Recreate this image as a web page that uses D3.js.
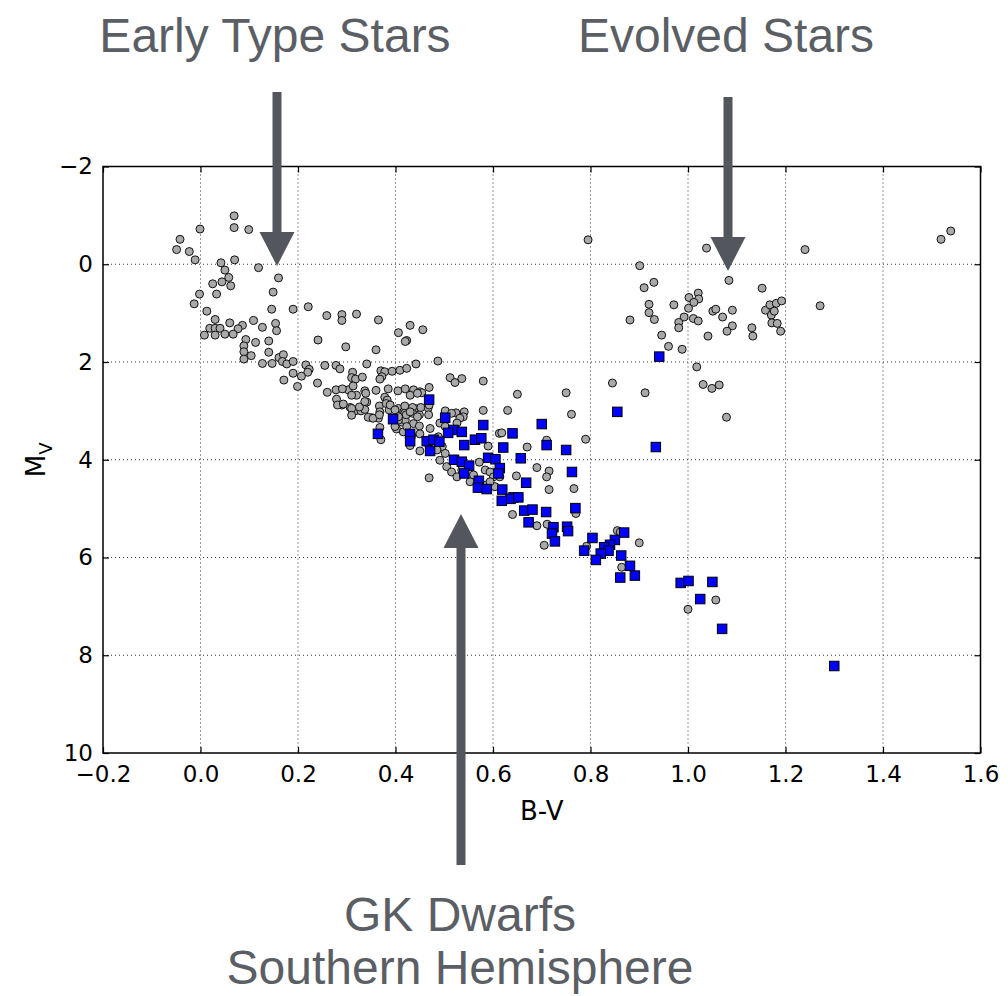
<!DOCTYPE html>
<html><head><meta charset="utf-8">
<script src="https://cdn.jsdelivr.net/npm/d3@7"></script>
<style>body{margin:0;background:#fff}svg{display:block}</style>
</head><body>
<svg id="c" width="1008" height="996"></svg>
<script>
// Gray circles: [B-V, M_V]
const allStars = [
[0.069,-0.99],[0.069,-0.75],[0.099,-0.71],[-0.001,-0.72],[-0.042,-0.51],[-0.049,-0.30],[-0.023,-0.26],[-0.011,-0.09],
[0.070,-0.09],[0.042,-0.03],[0.119,0.07],[0.050,0.12],[0.058,0.27],[0.160,0.28],[0.025,0.40],[0.044,0.36],[0.062,0.44],
[0.149,0.57],[-0.002,0.61],[0.033,0.61],[-0.013,0.81],[0.146,0.92],[0.190,0.92],[0.221,0.87],[0.013,0.96],[0.030,1.13],
[0.060,1.20],[0.109,1.15],[0.154,1.21],[0.127,1.29],[0.086,1.25],[0.077,1.32],[0.156,1.36],[0.019,1.31],[0.030,1.31],
[0.040,1.31],[0.008,1.45],[0.030,1.45],[0.050,1.43],[0.067,1.43],[0.093,1.54],[0.113,1.60],[0.140,1.57],[0.241,1.55],
[0.089,1.67],[0.089,1.79],[0.089,1.94],[0.104,1.87],[0.140,1.80],[0.127,2.03],[0.147,2.03],[0.161,1.91],[0.170,1.85],
[0.168,1.99],[0.177,2.04],[0.190,1.99],[0.216,2.06],[0.223,2.15],[0.220,2.21],[0.190,2.23],[0.207,2.29],[0.171,2.37],
[0.199,2.50],[0.259,1.05],[0.290,1.03],[0.290,1.15],[0.320,1.02],[0.365,1.14],[0.430,1.25],[0.456,1.34],[0.406,1.40],
[0.423,1.56],[0.420,1.58],[0.298,1.69],[0.360,1.75],[0.255,2.07],[0.278,2.07],[0.286,2.14],[0.312,2.21],[0.310,2.32],
[0.318,2.35],[0.332,2.31],[0.341,2.04],[0.370,2.18],[0.378,2.20],[0.393,2.19],[0.409,2.17],[0.423,2.13],[0.442,2.04],
[0.487,1.98],[0.372,2.30],[0.368,2.35],[0.240,2.43],[0.278,2.57],[0.260,2.62],[0.303,2.57],[0.313,2.49],[0.291,2.55],
[0.320,2.68],[0.337,2.59],[0.360,2.58],[0.385,2.55],[0.405,2.59],[0.420,2.55],[0.437,2.57],[0.450,2.61],[0.469,2.52],
[0.279,2.76],[0.290,2.88],[0.281,2.88],[0.307,2.93],[0.317,3.00],[0.329,3.00],[0.337,2.97],[0.341,2.82],[0.351,3.14],
[0.367,2.90],[0.368,3.02],[0.378,2.72],[0.383,2.78],[0.381,2.85],[0.387,2.98],[0.406,2.95],[0.417,3.02],[0.428,2.97],
[0.440,2.95],[0.449,3.08],[0.454,2.63],[0.452,2.93],[0.467,2.94],[0.468,3.08],[0.365,3.15],[0.368,3.34],[0.370,3.59],
[0.413,3.23],[0.420,3.19],[0.437,3.26],[0.449,3.31],[0.402,3.37],[0.430,3.71],[0.450,3.47],[0.471,3.36],[0.512,2.32],
[0.522,2.42],[0.536,2.34],[0.580,2.39],[0.650,2.66],[0.502,3.00],[0.524,3.04],[0.541,3.02],[0.539,3.12],[0.580,2.99],
[0.630,2.99],[0.491,3.25],[0.488,3.53],[0.496,3.73],[0.450,3.82],[0.469,4.37],[0.845,2.43],[0.750,2.63],[0.912,2.63],
[0.761,3.07],[0.613,3.46],[0.618,3.45],[0.710,3.60],[0.670,3.74],[0.790,3.58],[0.590,3.72],[0.690,4.16],[0.715,4.23],
[0.710,4.35],[0.648,4.33],[0.572,4.05],[0.715,4.61],[0.766,4.59],[0.640,5.12],[0.690,5.35],[0.711,5.32],[0.705,5.75],
[0.900,5.70],[0.770,5.10],[1.031,2.46],[1.049,2.54],[1.064,2.47],[1.079,3.13],[0.855,5.45],[0.861,5.48],[0.792,5.77],
[0.864,6.20],[1.057,6.87],[1.000,7.06],[0.795,-0.50],[1.038,-0.33],[1.240,-0.30],[0.901,0.03],[0.930,0.37],[0.910,0.48],
[1.084,0.33],[1.152,0.49],[1.021,0.59],[1.002,0.68],[1.022,0.71],[1.012,0.78],[0.971,0.83],[0.920,0.82],[0.920,0.99],
[0.931,1.13],[0.881,1.14],[1.001,0.90],[0.992,1.08],[0.981,1.19],[0.981,1.30],[1.011,1.11],[1.021,1.16],[1.051,0.96],
[1.057,0.92],[1.091,0.94],[1.071,1.08],[1.091,1.26],[1.080,1.37],[1.041,1.47],[0.946,1.45],[0.960,1.68],[0.988,1.74],
[1.131,1.30],[1.133,1.47],[1.159,0.94],[1.168,0.83],[1.181,0.80],[1.192,0.75],[1.171,1.04],[1.177,0.96],[1.172,1.20],
[1.183,1.21],[1.190,1.37],[1.271,0.85],[1.018,2.10],[1.519,-0.51],[1.539,-0.68],
[0.419,2.90],[0.435,2.93],[0.469,2.88],[0.419,3.05],[0.435,3.05],[0.406,3.19],[0.399,3.32],[0.416,3.43],[0.502,3.32],
[0.515,3.05],[0.532,3.15],[0.526,3.25],[0.469,3.73],[0.485,3.80],[0.502,3.87],[0.491,4.01],[0.505,4.14],[0.515,4.25],
[0.526,4.35],[0.536,4.21],[0.553,4.45],[0.560,4.31],[0.584,4.21],[0.594,4.25],[0.601,4.35],[0.604,4.55],[0.584,4.52],
[0.594,4.45],[0.614,4.35],[0.339,2.64],[0.430,2.68],[0.445,2.64],[0.293,2.86],[0.310,2.68],[0.310,2.95],[0.310,3.09],
[0.326,2.92],[0.337,2.81],[0.344,3.13],[0.354,3.15],[0.367,3.08],[0.389,2.88],[0.399,2.98],[0.406,3.12],[0.422,3.08],
[0.430,3.02],[0.445,3.12],[0.423,3.32],[0.433,3.49]
];
// Blue squares: GK dwarfs, southern hemisphere [B-V, M_V]
const gkDwarfs = [
[0.469,2.77],[0.395,3.17],[0.364,3.47],[0.430,3.47],[0.430,3.62],[0.502,3.14],[0.580,3.29],[0.519,3.39],[0.508,3.45],
[0.536,3.43],[0.464,3.62],[0.478,3.59],[0.490,3.63],[0.471,3.82],[0.541,3.70],[0.563,3.59],[0.576,3.56],[0.640,3.46],
[0.621,3.75],[0.520,4.00],[0.536,4.04],[0.551,4.12],[0.541,4.28],[0.590,3.96],[0.605,3.99],[0.614,4.17],[0.611,4.28],
[0.571,4.43],[0.569,4.57],[0.587,4.60],[0.619,4.61],[0.642,4.77],[0.700,3.27],[0.710,3.70],[0.750,3.80],[0.855,3.02],
[0.934,3.74],[0.657,3.97],[0.762,4.25],[0.668,4.47],[0.636,4.80],[0.652,4.77],[0.618,4.84],[0.769,4.99],[0.664,5.04],
[0.681,5.02],[0.709,5.07],[0.673,5.28],[0.724,5.38],[0.721,5.51],[0.727,5.67],[0.752,5.37],[0.754,5.46],[0.804,5.60],
[0.869,5.49],[0.850,5.64],[0.840,5.74],[0.828,5.79],[0.837,5.86],[0.821,5.92],[0.787,5.86],[0.811,6.05],[0.863,5.96],
[0.881,6.17],[0.891,6.37],[0.861,6.41],[0.985,6.52],[1.001,6.48],[1.050,6.50],[1.025,6.85],[1.070,7.46],[1.300,8.22],
[0.941,1.89]
];
const xTicks = [-0.2,0.0,0.2,0.4,0.6,0.8,1.0,1.2,1.4,1.6];
const yTicks = [-2,0,2,4,6,8,10];
const xLabel = "B-V";
const annotations = ["Early Type Stars","Evolved Stars","GK Dwarfs","Southern Hemisphere"];

const svg = d3.select("#c");
const L=103, R=980.5, T=166.5, B=753;
const x = d3.scaleLinear().domain([-0.2,1.6]).range([L,R]);
const y = d3.scaleLinear().domain([-2,10]).range([T,B]);

// grid
const g = svg.append("g");
g.selectAll(".vg").data(xTicks.slice(1,-1)).join("line")
 .attr("x1",d=>x(d)).attr("x2",d=>x(d)).attr("y1",T).attr("y2",B)
 .attr("stroke","#333").attr("stroke-width",1).attr("stroke-dasharray","1,3");
g.selectAll(".hg").data(yTicks.slice(1,-1)).join("line")
 .attr("y1",d=>y(d)).attr("y2",d=>y(d)).attr("x1",L).attr("x2",R)
 .attr("stroke","#333").attr("stroke-width",1).attr("stroke-dasharray","1,3");

// points
svg.append("g").selectAll("circle").data(allStars).join("circle")
 .attr("cx",d=>x(d[0])).attr("cy",d=>y(d[1])).attr("r",4)
 .attr("fill","#a9a9a9").attr("stroke","#111").attr("stroke-width",1);
const s=9.5;
svg.append("g").selectAll("rect").data(gkDwarfs).join("rect")
 .attr("x",d=>x(d[0])-s/2).attr("y",d=>y(d[1])-s/2).attr("width",s).attr("height",s)
 .attr("fill","#0000ff").attr("stroke","#000").attr("stroke-width",1);

// axes (ticks inside, on all sides)
const fmtX = d3.format(".1f");
const axB = d3.axisBottom(x).tickValues(xTicks).tickSize(-6).tickPadding(13).tickFormat(fmtX);
const axT = d3.axisTop(x).tickValues(xTicks).tickSize(-6).tickFormat("");
const axLft = d3.axisLeft(y).tickValues(yTicks).tickSize(-6).tickPadding(10).tickFormat(d3.format("d"));
const axRt = d3.axisRight(y).tickValues(yTicks).tickSize(-6).tickFormat("");
function style(sel){sel.select(".domain").remove();sel.selectAll("line").attr("stroke","#000").attr("stroke-width",1.2);
 sel.selectAll("text").attr("font-family","DejaVu Sans").attr("font-size",23).attr("fill","#000");}
svg.append("g").attr("transform",`translate(0,${B})`).call(axB).call(style);
svg.append("g").attr("transform",`translate(0,${T})`).call(axT).call(style);
svg.append("g").attr("transform",`translate(${L},0)`).call(axLft).call(style);
svg.append("g").attr("transform",`translate(${R},0)`).call(axRt).call(style);
svg.append("rect").attr("x",L).attr("y",T).attr("width",R-L).attr("height",B-T)
 .attr("fill","none").attr("stroke","#000").attr("stroke-width",1.5);

// axis labels
svg.append("text").attr("x",(L+R)/2).attr("y",820).attr("text-anchor","middle")
 .attr("font-family","DejaVu Sans").attr("font-size",26).text(xLabel);
const yl = svg.append("text").attr("transform",`translate(45,${(T+B)/2}) rotate(-90)`).attr("text-anchor","middle")
 .attr("font-family","DejaVu Sans").attr("font-size",26);
yl.append("tspan").text("M");
yl.append("tspan").attr("font-size",18).attr("dy",7).text("V");

// annotations
const ac="#53575d", tc="#5b5f65";
function ann(t,cx,by){svg.append("text").attr("x",cx).attr("y",by).attr("text-anchor","middle")
 .attr("font-family","Liberation Sans").attr("font-size",48).attr("fill",tc).text(t);}
ann(annotations[0],275,52);
ann(annotations[1],726,52);
ann(annotations[2],460,931);
ann(annotations[3],460,984);
function arrowDown(cx,y0,yb,tip){
 svg.append("rect").attr("x",cx-4.5).attr("y",y0).attr("width",9).attr("height",yb-y0+1).attr("fill",ac);
 svg.append("path").attr("d",`M${cx-17.5},${yb}L${cx+17.5},${yb}L${cx},${tip}Z`).attr("fill",ac);
}
arrowDown(277,92,232,266);
arrowDown(728,97,237,271);
// up arrow
svg.append("rect").attr("x",461-4.5).attr("y",547).attr("width",9).attr("height",865-547).attr("fill",ac);
svg.append("path").attr("d",`M${461-17.5},${548}L${461+17.5},${548}L${461},${514}Z`).attr("fill",ac);
</script>
</body></html>
